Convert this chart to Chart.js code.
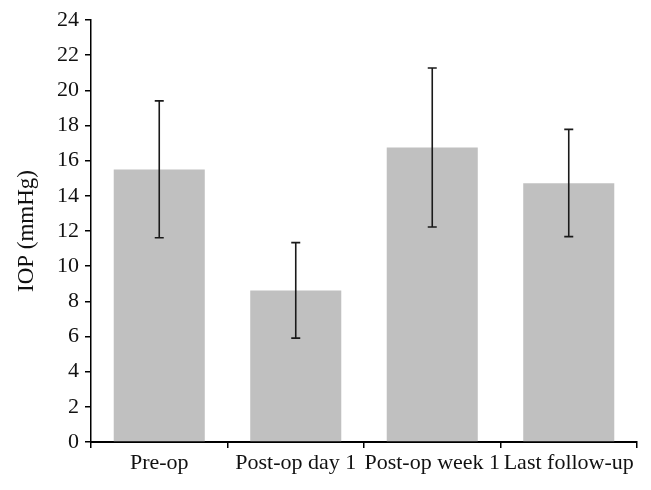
<!DOCTYPE html>
<html>
<head>
<meta charset="utf-8">
<script src="https://cdn.jsdelivr.net/npm/chart.js@4/dist/chart.umd.min.js"></script>
<style>
  html, body { margin: 0; padding: 0; background: #fff; }
  #wrap { width: 651px; height: 490px; position: relative; }
</style>
</head>
<body>
<div id="wrap"><canvas id="c" width="651" height="490"></canvas></div>
<script>
const categories = ["Pre-op", "Post-op day 1", "Post-op week 1", "Last follow-up"];
const meanIOP = [15.5, 8.62, 16.75, 14.72];
const errUpper = [19.4, 11.34, 21.27, 17.78];
const errLower = [11.62, 5.91, 12.23, 11.68];
const yTicks = [0, 2, 4, 6, 8, 10, 12, 14, 16, 18, 20, 22, 24];

const FONT = "'Liberation Serif', 'Times New Roman', serif";

const errorBars = {
  id: 'errorBars',
  afterDatasetsDraw(chart) {
    const ctx = chart.ctx;
    const x = chart.scales.x, y = chart.scales.y;
    ctx.save();
    ctx.strokeStyle = '#1a1a1a';
    ctx.lineWidth = 1.6;
    categories.forEach((c, i) => {
      const px = x.getPixelForValue(i);
      const top = y.getPixelForValue(errUpper[i]);
      const bot = y.getPixelForValue(errLower[i]);
      ctx.beginPath();
      ctx.moveTo(px, top); ctx.lineTo(px, bot);
      ctx.moveTo(px - 4.5, top); ctx.lineTo(px + 4.5, top);
      ctx.moveTo(px - 4.5, bot); ctx.lineTo(px + 4.5, bot);
      ctx.stroke();
    });
    ctx.restore();
  }
};

new Chart(document.getElementById('c'), {
  type: 'bar',
  data: {
    labels: categories,
    datasets: [{
      data: meanIOP,
      backgroundColor: '#c0c0c0',
      borderWidth: 0,
      barPercentage: 0.667,
      categoryPercentage: 1.0
    }]
  },
  options: {
    responsive: false,
    animation: false,
    layout: { padding: { left: 0, right: 14, top: 20, bottom: 0 } },
    plugins: { legend: { display: false }, tooltip: { enabled: false } },
    scales: {
      x: {
        grid: { display: true, drawOnChartArea: false, drawTicks: true, tickLength: 6, color: '#000', offset: true, lineWidth: 1.5 },
        border: { display: true, color: '#000', width: 2 },
        ticks: { color: '#111', font: { family: FONT, size: 22 }, padding: 2, maxRotation: 0, autoSkip: false },
        afterFit(scale) { scale.height = 48; }
      },
      y: {
        min: 0, max: 24,
        afterBuildTicks(scale) { scale.ticks = yTicks.map(v => ({ value: v })); },
        grid: { display: true, drawOnChartArea: false, drawTicks: true, tickLength: 6, color: '#000', lineWidth: 1.5 },
        border: { display: true, color: '#000', width: 1.5 },
        ticks: { color: '#111', font: { family: FONT, size: 22 }, padding: 6 },
        title: { display: true, text: 'IOP (mmHg)', color: '#111', font: { family: FONT, size: 23 }, padding: { top: 13, bottom: 4 } },
        afterFit(scale) { scale.width = 91; }
      }
    }
  },
  plugins: [errorBars]
});
</script>
</body>
</html>
